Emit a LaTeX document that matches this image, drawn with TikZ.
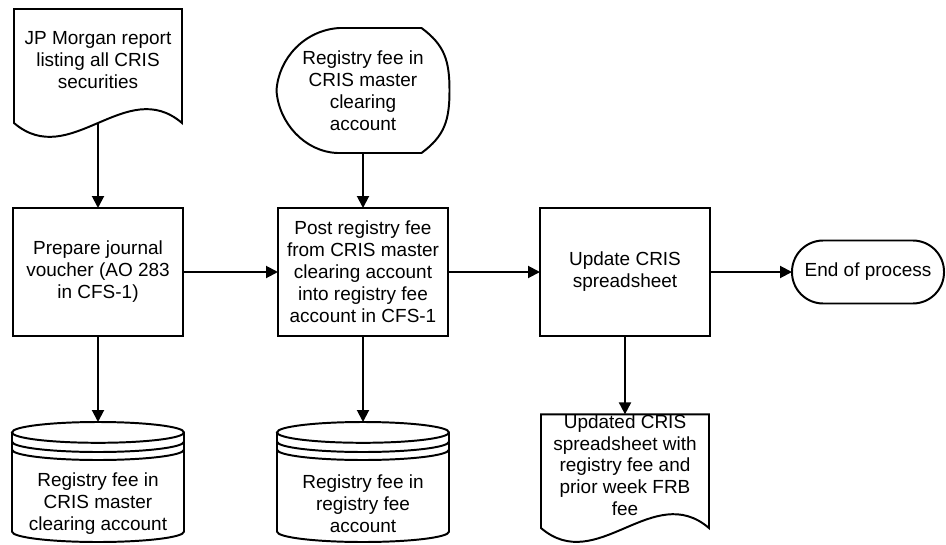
\documentclass[tikz,border=0pt]{standalone}
\usepackage{fontspec}
\setmainfont{Liberation Sans}
\usepackage{tikz}
\usetikzlibrary{arrows.meta}
\newcommand{\flowfont}{\fontsize{13.5}{15.6}\selectfont}
\tikzstyle{outline}=[draw=black, line width=1.4pt]
\tikzstyle{process}=[draw=black, line width=1.4pt, shape=rectangle, outer sep=0pt, minimum width=4.25cm, minimum height=3.2cm, align=center, font=\flowfont]
\tikzstyle{terminal}=[draw=black, line width=1.4pt, shape=rectangle, rounded corners=0.78cm, outer sep=0pt, minimum width=3.8cm, minimum height=1.575cm, align=center, font=\flowfont]
\tikzstyle{document}=[shape=rectangle, outer sep=0pt, inner sep=0pt, minimum width=4.2cm, align=center, font=\flowfont,
    append after command={\pgfextra{\draw[outline] (\tikzlastnode.north west) -- ([yshift=-0.3cm]\tikzlastnode.south west)
        .. controls ([xshift=1.4cm,yshift=-1.5cm]\tikzlastnode.south west) and ([xshift=-1.4cm,yshift=0.9cm]\tikzlastnode.south east) .. ([yshift=-0.3cm]\tikzlastnode.south east)
        -- (\tikzlastnode.north east) -- cycle;}}]
\tikzstyle{display}=[shape=rectangle, outer sep=0pt, inner sep=0pt, minimum width=4.325cm, minimum height=3.125cm, align=center, font=\flowfont,
    append after command={\pgfextra{\draw[outline] ([xshift=1.575cm]\tikzlastnode.north west) -- ([xshift=-0.7cm]\tikzlastnode.north east)
        .. controls ([xshift=-0.125cm,yshift=-0.425cm]\tikzlastnode.north east) and ([yshift=0.75cm]\tikzlastnode.east) .. (\tikzlastnode.east)
        .. controls ([yshift=-0.75cm]\tikzlastnode.east) and ([xshift=-0.125cm,yshift=0.425cm]\tikzlastnode.south east) .. ([xshift=-0.7cm]\tikzlastnode.south east)
        -- ([xshift=1.525cm]\tikzlastnode.south west)
        .. controls ([xshift=0.7cm,yshift=0.03cm]\tikzlastnode.south west) and ([xshift=0.05cm,yshift=-0.8cm]\tikzlastnode.west) .. (\tikzlastnode.west)
        .. controls ([xshift=0.05cm,yshift=0.8cm]\tikzlastnode.west) and ([xshift=0.7cm,yshift=-0.05cm]\tikzlastnode.north west) .. ([xshift=1.575cm]\tikzlastnode.north west)
        -- cycle;}}]
\tikzstyle{store}=[shape=rectangle, outer sep=0pt, inner sep=0pt, minimum width=4.3cm, minimum height=1.9cm, align=center, font=\flowfont,
    append after command={\pgfextra{\draw[outline] ([yshift=0.84cm]\tikzlastnode.north west) -- ([yshift=0.26cm]\tikzlastnode.south west)
        arc[start angle=180, end angle=360, x radius=2.15cm, y radius=0.26cm]
        -- ([yshift=0.84cm]\tikzlastnode.north east)
        arc[start angle=0, end angle=360, x radius=2.15cm, y radius=0.26cm];
      \draw[outline] ([yshift=0.61cm]\tikzlastnode.north west) arc[start angle=180, end angle=360, x radius=2.15cm, y radius=0.26cm];
      \draw[outline] ([yshift=0.41cm]\tikzlastnode.north west) arc[start angle=180, end angle=360, x radius=2.15cm, y radius=0.26cm];}}]
\tikzstyle{flow}=[-{Triangle[length=0.3cm,width=0.3cm]}, draw=black, line width=1.4pt]
\pgfdeclarelayer{nodelayer}
\pgfdeclarelayer{edgelayer}
\pgfsetlayers{main,nodelayer,edgelayer}

\begin{document}
\begin{tikzpicture}
	\useasboundingbox (0, 0) rectangle (23.65, -13.6);
	\begin{pgfonlayer}{nodelayer}
		\node [style=document, minimum height=2.55cm] (0) at (2.45, -1.5) {JP Morgan report\\listing all CRIS\\securities};
		\node [style=process] (1) at (2.45, -6.8) {Prepare journal\\voucher (AO 283\\in CFS-1)};
		\node [style=display] (2) at (9.075, -2.2625) {Registry fee in\\CRIS master\\clearing\\account};
		\node [style=process] (3) at (9.075, -6.8) {Post registry fee\\from CRIS master\\clearing account\\into registry fee\\account in CFS-1};
		\node [style=process] (4) at (15.625, -6.8) {Update CRIS\\spreadsheet};
		\node [style=terminal] (5) at (21.7, -6.8) {End of process};
		\node [style=store] (6) at (2.45, -12.6) {Registry fee in\\CRIS master\\clearing account};
		\node [style=store] (7) at (9.075, -12.6) {Registry fee in\\registry fee\\account};
		\node [style=document, minimum height=2.4cm] (8) at (15.625, -11.63) {Updated CRIS\\spreadsheet with\\registry fee and\\prior week FRB\\fee};
	\end{pgfonlayer}
	\begin{pgfonlayer}{edgelayer}
		\draw [style=flow, shorten <=0.3cm] (0) to (1);
		\draw [style=flow] (2) to (3);
		\draw [style=flow] (1) to (3);
		\draw [style=flow] (3) to (4);
		\draw [style=flow] (4) to (5);
		\draw [style=flow, shorten >=1.1cm] (1) to (6);
		\draw [style=flow, shorten >=1.1cm] (3) to (7);
		\draw [style=flow] (4) to (8);
	\end{pgfonlayer}
\end{tikzpicture}
\end{document}
